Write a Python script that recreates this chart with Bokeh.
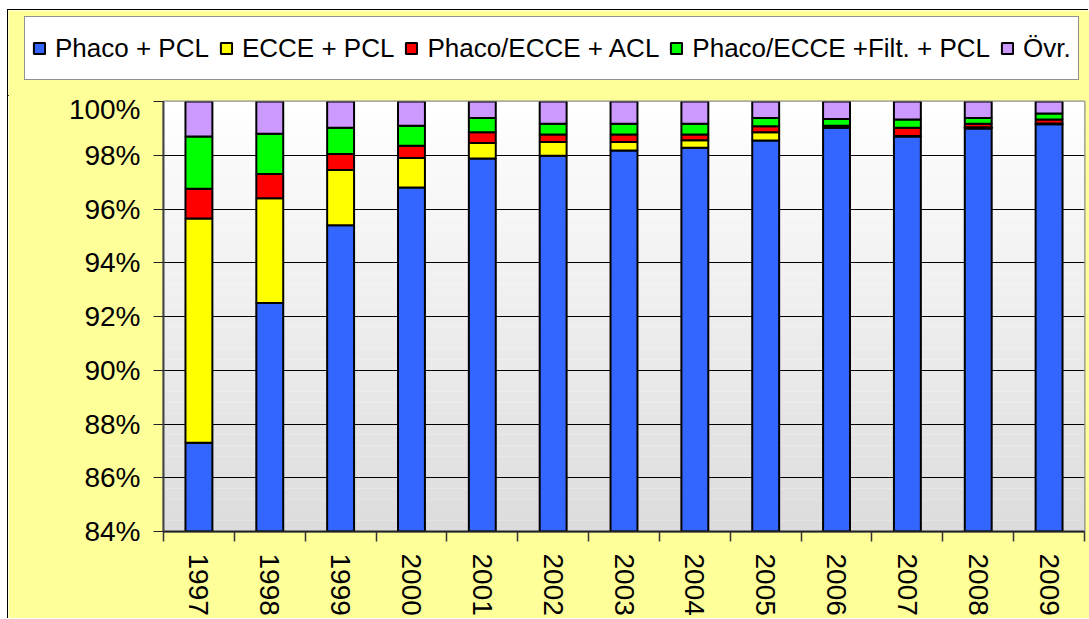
from bokeh.plotting import figure
from bokeh.models import (ColumnDataSource, Range1d, FixedTicker, PrintfTickFormatter,
                          Legend, LegendItem, BoxAnnotation)
from bokeh.embed import file_html
from bokeh.resources import INLINE

# ---- data (percent of operations) ----
years = ["1997", "1998", "1999", "2000", "2001", "2002", "2003",
         "2004", "2005", "2006", "2007", "2008", "2009"]
phaco_pcl = [87.3, 92.5, 95.4, 96.8, 97.88, 97.98, 98.18, 98.28, 98.55, 99.02, 98.7, 99.0, 99.15]
ecce_pcl = [8.35, 3.9, 2.05, 1.1, 0.58, 0.51, 0.31, 0.28, 0.31, 0.03, 0.02, 0.04, 0.03]
phaco_ecce_acl = [1.1, 0.9, 0.6, 0.45, 0.4, 0.28, 0.28, 0.21, 0.22, 0.05, 0.3, 0.13, 0.15]
phaco_ecce_filt = [1.95, 1.5, 0.97, 0.75, 0.53, 0.4, 0.4, 0.4, 0.31, 0.25, 0.31, 0.22, 0.22]
ovr = [round(100 - a - b - c - d, 3) for a, b, c, d in
       zip(phaco_pcl, ecce_pcl, phaco_ecce_acl, phaco_ecce_filt)]

series_names = ["Phaco + PCL", "ECCE + PCL", "Phaco/ECCE + ACL",
                "Phaco/ECCE +Filt. + PCL", "Övr."]
series_keys = ["phaco_pcl", "ecce_pcl", "acl", "filt", "ovr"]
colors = ["#3366FF", "#FFFF00", "#FF0000", "#00FF00", "#CC99FF"]
y_ticks = [84, 86, 88, 90, 92, 94, 96, 98, 100]

source = ColumnDataSource(dict(
    x=list(range(len(years))),
    phaco_pcl=phaco_pcl, ecce_pcl=ecce_pcl, acl=phaco_ecce_acl,
    filt=phaco_ecce_filt, ovr=ovr))

FONT = "Liberation Sans"
BG = "#FFFF99"

# ---------------- legend strip (separate root, same stacked renderers viewed off-range) ----------------
lf = figure(width=1081, height=86, min_border=0, x_axis_type=None, y_axis_type=None,
            x_range=Range1d(100, 101), y_range=Range1d(100, 101),
            output_backend="svg", toolbar_location=None, tools="",
            margin=(10, 0, 0, 8), styles={"box-shadow": "-1px -1px 0 0 #000000"})
lf.border_fill_color = BG
lf.background_fill_color = BG
lf.outline_line_color = None
lf.grid.visible = False
leg_renderers = lf.vbar_stack(series_keys, x="x", width=0.38, source=source,
                              fill_color=colors, line_color="black", line_width=2)
legend = Legend(items=[LegendItem(label=n, renderers=[r]) for n, r in zip(series_names, leg_renderers)],
                orientation="horizontal", location=(16, 16),
                label_text_font=FONT, label_text_font_size="26px", label_text_color="black",
                glyph_width=14, glyph_height=14, label_standoff=9, spacing=10,
                padding=7, label_height=48, margin=0,
                border_line_color="#222222", border_line_width=1,
                background_fill_color="white", background_fill_alpha=1)
lf.add_layout(legend, "center")

# ---------------- main chart ----------------
p = figure(frame_width=921, frame_height=430,
           min_border_left=155, min_border_top=8, min_border_right=5, min_border_bottom=87,
           x_range=Range1d(-0.5, len(years) - 0.5), y_range=Range1d(84, 100),
           output_backend="svg", toolbar_location=None, tools="",
           margin=(-3, 0, 0, 8), styles={"box-shadow": "-1px 0 0 0 #000000"})

p.border_fill_color = BG
p.background_fill_color = "#FFFFFF"
p.outline_line_color = "#8C8C8C"
p.outline_line_width = 2

# background gradient (white at top -> light grey at bottom)
n_bands = 40
lo, hi = 84.0, 100.0
for i in range(n_bands):
    b = lo + (hi - lo) * i / n_bands
    t = lo + (hi - lo) * (i + 1) / n_bands
    frac = (i + 0.5) / n_bands
    g = int(round(0xDC + (0xFF - 0xDC) * frac))
    p.add_layout(BoxAnnotation(bottom=b, top=t, fill_color="#%02x%02x%02x" % (g, g, g),
                               fill_alpha=1, line_alpha=0, level="image"))

renderers = p.vbar_stack(series_keys, x="x", width=0.38, source=source,
                         fill_color=colors, line_color="black", line_width=2)

p.xgrid.grid_line_color = None
p.ygrid.ticker = FixedTicker(ticks=y_ticks)
p.ygrid.grid_line_color = "black"
p.ygrid.grid_line_width = 1

xa = p.xaxis[0]
xa.ticker = FixedTicker(ticks=list(range(len(years))),
                        minor_ticks=[i - 0.5 for i in range(len(years) + 1)])
xa.major_label_overrides = {i: y for i, y in enumerate(years)}
xa.major_label_orientation = "vertical"
xa.major_tick_line_color = None
xa.minor_tick_in = 0
xa.minor_tick_out = 10
xa.minor_tick_line_color = "#333333"
xa.minor_tick_line_width = 1.5
xa.axis_line_color = "#222222"
xa.axis_line_width = 2
xa.major_label_text_font = FONT
xa.major_label_text_font_size = "28px"
xa.major_label_text_color = "black"
xa.major_label_standoff = 12

ya = p.yaxis[0]
ya.ticker = FixedTicker(ticks=y_ticks)
ya.formatter = PrintfTickFormatter(format="%d%%")
ya.major_tick_in = 0
ya.major_tick_out = 10
ya.major_tick_line_color = "#222222"
ya.major_tick_line_width = 1
ya.minor_tick_line_color = None
ya.axis_line_color = "#444444"
ya.axis_line_width = 2
ya.major_label_text_font = FONT
ya.major_label_text_font_size = "28px"
ya.major_label_text_color = "black"
ya.major_label_standoff = 13

open("out.html", "w").write(file_html([lf, p], INLINE))
